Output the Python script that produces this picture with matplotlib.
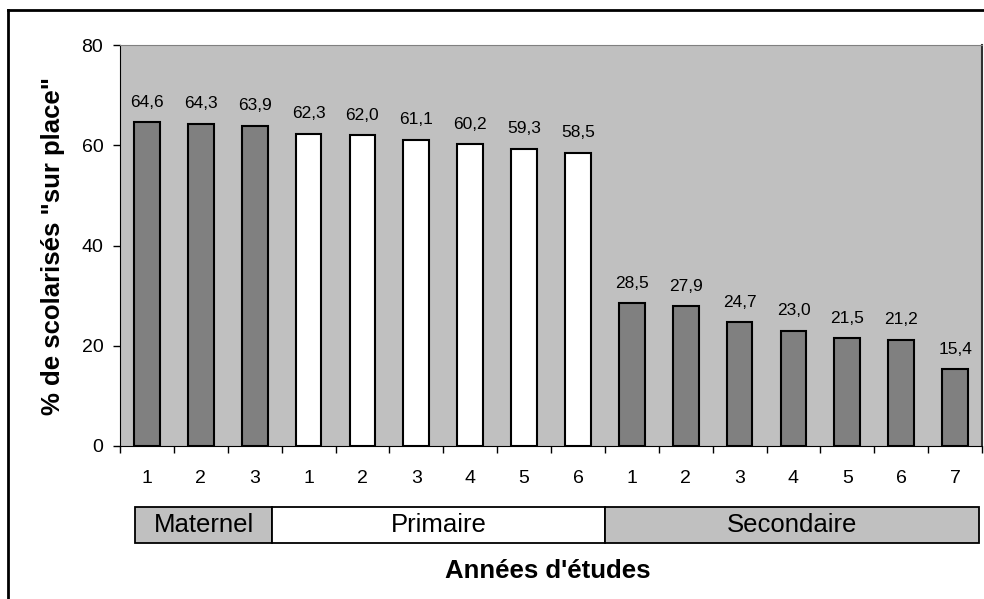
import matplotlib
matplotlib.use("Agg")
import matplotlib.pyplot as plt
from matplotlib.patches import Rectangle
from matplotlib.lines import Line2D
import matplotlib.transforms as mtransforms

plt.rcParams["font.family"] = ["Liberation Sans", "DejaVu Sans"]

# data
groups = ["Maternel", "Primaire", "Secondaire"]
group_sizes = [3, 6, 7]
year_labels = ["1", "2", "3", "1", "2", "3", "4", "5", "6", "1", "2", "3", "4", "5", "6", "7"]
values = [64.6, 64.3, 63.9, 62.3, 62.0, 61.1, 60.2, 59.3, 58.5,
          28.5, 27.9, 24.7, 23.0, 21.5, 21.2, 15.4]

bar_colors = {"Maternel": "#808080", "Primaire": "#ffffff", "Secondaire": "#808080"}
box_colors = {"Maternel": "#c0c0c0", "Primaire": "#ffffff", "Secondaire": "#c0c0c0"}

fig = plt.figure(figsize=(9.84, 5.99), dpi=100)
ax = fig.add_axes([120 / 984, 1 - 446 / 599, 862 / 984, 401 / 599])
ax.set_facecolor("#c0c0c0")

colors = []
for g, n in zip(groups, group_sizes):
    colors += [bar_colors[g]] * n

x = list(range(len(values)))
bars = ax.bar(x, values, width=0.48, color=colors, edgecolor="black", linewidth=1.5, zorder=3)

for xi, v in zip(x, values):
    ax.annotate(f"{v:.1f}".replace(".", ","), (xi, v), xytext=(0, 11),
                textcoords="offset points", ha="center", va="baseline", fontsize=12.5)

ax.set_xlim(-0.5, len(values) - 0.5)
ax.set_ylim(0, 80)
ax.set_yticks([0, 20, 40, 60, 80])
ax.tick_params(axis="y", length=5, width=1, pad=7, labelsize=14)

ax.set_xticks(x)
ax.set_xticklabels(year_labels)
ax.set_xticks([i - 0.5 for i in range(len(values) + 1)], minor=True)
ax.tick_params(axis="x", which="major", length=0, pad=17, labelsize=14)
ax.tick_params(axis="x", which="minor", length=5, width=1)

ax.spines["left"].set_color("black")
ax.spines["bottom"].set_color("black")
ax.spines["top"].set_color("#808080")
ax.spines["right"].set_color("#303030")
ax.spines["right"].set_linewidth(1.5)

# group boxes under the year labels
trans = mtransforms.blended_transform_factory(ax.transData, fig.transFigure)
y0 = 1 - 543 / 599
h = 36 / 599
start = -0.5
for i, (g, n) in enumerate(zip(groups, group_sizes)):
    left = start + (0.28 if i == 0 else 0)
    right = start + n - (0.06 if i == len(groups) - 1 else 0)
    if i == 0:
        right -= 0.17
    elif i == 1:
        left -= 0.17
    fig.add_artist(Rectangle((left, y0), right - left, h, transform=trans,
                             facecolor=box_colors[g], edgecolor="black", linewidth=1.3))
    fig.text((left + right) / 2, y0 + h / 2, g, transform=trans, ha="center",
             va="center", fontsize=18.5)
    start += n

fig.text(548 / 984, 1 - 571 / 599, "Années d'études", ha="center", va="center",
         fontsize=18.5, fontweight="bold")
fig.text(53 / 984, 1 - 246 / 599, "% de scolarisés \"sur place\"", ha="center", va="center",
         rotation=90, fontsize=18.5, fontweight="bold")

# outer chart frame (left and top edges visible)
fig.add_artist(Line2D([8 / 984, 8 / 984], [0, 1 - 10 / 599], transform=fig.transFigure,
                      color="black", linewidth=2))
fig.add_artist(Line2D([8 / 984, 1], [1 - 10 / 599, 1 - 10 / 599], transform=fig.transFigure,
                      color="black", linewidth=2))

fig.savefig("out.png", dpi=100)
